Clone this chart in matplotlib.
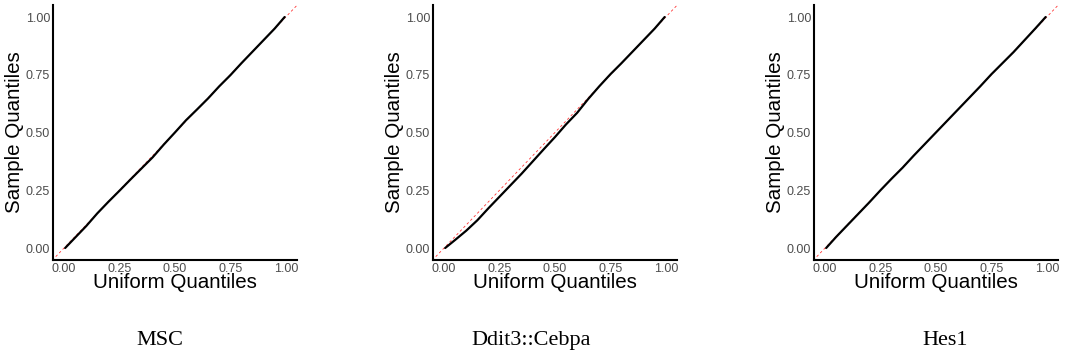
import matplotlib.pyplot as plt

plt.rcParams["font.family"] = ["Liberation Sans", "DejaVu Sans"]

# QQ-plot data: sample quantiles at fixed uniform quantiles
uniform_q = [0.005, 0.05, 0.10, 0.15, 0.20, 0.25, 0.30, 0.35, 0.40, 0.45, 0.50,
             0.55, 0.60, 0.65, 0.70, 0.75, 0.80, 0.85, 0.90, 0.95, 0.995]
msc_q = [0.0, 0.045, 0.095, 0.150, 0.200, 0.248, 0.297, 0.345, 0.393, 0.448, 0.500,
         0.553, 0.600, 0.648, 0.700, 0.748, 0.800, 0.850, 0.900, 0.950, 1.0]
ddit3_q = [0.0, 0.035, 0.075, 0.120, 0.172, 0.222, 0.272, 0.322, 0.375, 0.428, 0.480,
           0.535, 0.585, 0.645, 0.700, 0.752, 0.800, 0.850, 0.900, 0.950, 1.0]
hes1_q = [0.0, 0.048, 0.098, 0.148, 0.198, 0.250, 0.300, 0.348, 0.400, 0.450, 0.500,
          0.550, 0.600, 0.650, 0.700, 0.752, 0.800, 0.848, 0.900, 0.952, 1.0]

titles = ["MSC", "Ddit3::Cebpa", "Hes1"]
series = [msc_q, ddit3_q, hes1_q]
ticks = [0.0, 0.25, 0.5, 0.75, 1.0]
tick_labels = ["0.00", "0.25", "0.50", "0.75", "1.00"]

fig = plt.figure(figsize=(10.72, 3.58), dpi=100)
lefts = [0.0494, 0.4039, 0.7593]
caption_x = [0.149, 0.495, 0.8815]

for i in range(3):
    ax = fig.add_axes([lefts[i], 0.2737, 0.2275, 0.7123])
    ax.plot([-0.1, 1.1], [-0.1, 1.1], color="red", ls=(0, (3, 3)), lw=0.6, alpha=0.8)
    ax.plot(uniform_q, series[i], color="black", lw=1.6, solid_capstyle="round")
    ax.set_xlim(-0.05, 1.05)
    ax.set_ylim(-0.052, 1.052)
    ax.set_xticks(ticks)
    ax.set_xticklabels(tick_labels)
    ax.set_yticks(ticks)
    ax.set_yticklabels(tick_labels)
    ax.tick_params(length=0, pad=2, labelsize=9, labelcolor="#4d4d4d")
    for s in ["top", "right"]:
        ax.spines[s].set_visible(False)
    for s in ["left", "bottom"]:
        ax.spines[s].set_linewidth(1.5)
    ax.set_xlabel("Uniform Quantiles", fontsize=14.8, labelpad=-1)
    ax.set_ylabel("Sample Quantiles", fontsize=14.8, labelpad=1)
    fig.text(caption_x[i], 0.05, titles[i], ha="center", va="center",
             fontsize=16, family="Liberation Serif")

fig.savefig("out.png", dpi=100)
